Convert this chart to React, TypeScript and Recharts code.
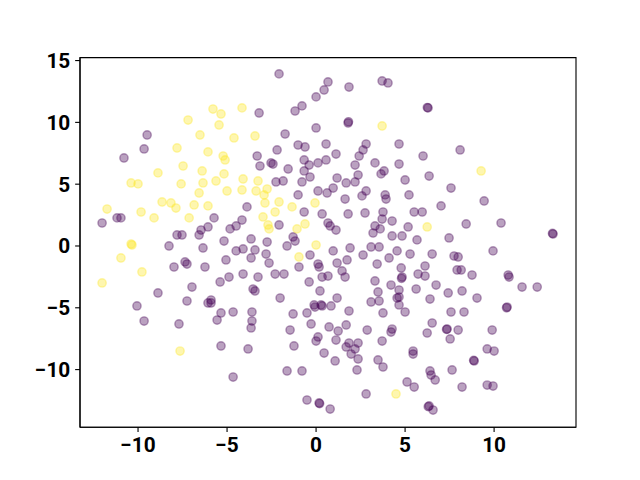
import React from 'react';
import { ScatterChart, Scatter, XAxis, YAxis, ReferenceArea } from 'recharts';

// Class 0 (dark purple) points: [x, y]
const purplePoints: [number, number][] = [
  [-9.49, 8.98], [-9.66, 7.85], [-10.79, 7.12],
  [-2.08, 13.92], [0.67, 13.27], [0.45, 12.62], [0.0, 12.06], [-0.79, 11.33], [-1.18, 10.92],
  [-3.2, 10.76], [0.0, 9.55], [-1.74, 9.06], [-1.01, 8.17], [-0.62, 8.01], [0.56, 8.25],
  [-3.31, 7.28], [-2.19, 7.77], [-3.15, 6.47], [-2.53, 6.72], [-2.42, 6.63], [-1.57, 6.23],
  [-0.67, 6.96], [-0.39, 6.55], [0.11, 6.72], [0.56, 6.96], [-0.67, 6.07], [-0.34, 5.58],
  [-1.85, 5.26], [-2.25, 5.18], [-0.79, 5.18],
  [1.85, 12.86], [3.71, 13.35], [4.04, 13.19], [6.29, 11.17], [6.25, 11.2], [1.8, 9.95], [1.82, 10.05],
  [2.81, 8.25], [2.64, 7.77], [2.42, 7.28], [4.66, 8.25], [6.01, 7.28], [1.12, 7.44], [2.19, 6.55],
  [3.31, 6.72], [4.66, 6.63], [3.82, 6.07], [3.65, 5.83], [6.35, 5.66], [1.18, 5.5], [2.36, 5.74],
  [1.69, 5.1], [2.19, 5.18], [5.0, 5.34], [8.09, 7.77],
  [-12.02, 1.86], [-11.18, 2.27], [-10.96, 2.27], [-7.81, 0.89], [-7.53, 0.89], [-6.46, 1.29],
  [-6.57, 0.89], [-6.07, 1.54], [-8.26, 0.0], [-6.35, -0.16], [-7.36, -1.29], [-7.25, -1.46],
  [-7.98, -1.7], [-6.24, -1.7], [-6.97, -3.32], [-8.88, -3.8], [-7.25, -4.45], [-10.06, -4.85],
  [-1.01, 4.13], [0.11, 4.45], [0.62, 4.29], [-3.88, 3.16], [-0.67, 2.75], [0.34, 2.59],
  [-5.73, 2.27], [-4.16, 2.1], [-4.49, 1.62], [-4.83, 1.38], [-2.08, 1.7], [0.67, 1.86], [0.79, 1.62],
  [-3.65, 0.57], [-2.75, 0.32], [-5.17, 0.4], [-1.29, 0.73], [-1.18, 0.4], [-1.63, 0.0],
  [-3.43, -0.32], [-4.1, -0.24], [-4.49, -0.4], [-2.81, -0.65], [-3.65, -0.97], [-5.06, -1.13],
  [-0.34, -0.73], [-2.64, -1.38], [0.11, -1.46], [0.17, -1.7], [-0.96, -1.7], [0.34, -2.51],
  [0.67, -2.43], [-4.1, -2.27], [-3.26, -2.51], [-2.3, -2.27], [-1.8, -2.27], [-4.89, -2.51],
  [-5.39, -2.91], [-0.39, -2.91], [-3.54, -3.48], [-3.43, -3.64], [0.22, -3.64], [-2.02, -4.21],
  [-5.9, -4.37], [-5.9, -4.61], [-0.11, -4.77], [0.28, -4.77],
  [0.96, 4.69], [2.81, 4.45], [2.58, 4.05], [3.88, 4.13], [3.93, 3.8], [5.22, 4.13], [7.58, 4.69],
  [1.63, 3.8], [2.75, 2.67], [3.76, 2.75], [3.71, 2.18], [1.8, 2.59], [5.51, 2.75], [5.96, 2.75],
  [7.02, 3.24], [4.27, 2.02], [3.31, 1.62], [3.6, 1.38], [3.2, 1.05], [5.17, 1.54], [1.12, 1.29],
  [4.27, 0.81], [4.83, 0.81], [5.67, 0.49], [7.47, 0.65], [1.91, -0.16], [3.09, -0.08], [3.54, -0.08],
  [0.96, -0.4], [2.64, -0.73], [4.55, -0.4], [5.28, -0.65], [4.1, -0.97], [6.52, -0.65], [7.75, -0.81],
  [1.74, -1.13], [1.18, -1.38], [3.43, -1.46], [6.12, -1.62], [1.46, -2.02], [4.78, -1.78],
  [1.63, -2.51], [4.83, -2.51], [4.8, -2.62], [5.73, -2.27], [6.12, -2.43], [3.31, -2.83],
  [4.21, -3.16], [4.66, -3.56], [5.62, -3.48], [6.74, -3.16], [7.42, -3.8], [3.48, -3.72],
  [1.18, -4.21], [3.09, -4.53], [3.54, -4.45], [4.55, -4.21], [4.66, -4.13], [6.4, -4.29], [4.66, -4.77],
  [9.44, 3.64], [8.43, 1.78], [10.39, 1.86], [13.31, 0.97], [13.28, 1.02], [7.98, -0.89], [9.94, -0.4],
  [7.92, -1.94], [8.15, -1.94], [8.76, -2.35], [10.79, -2.35], [10.84, -2.51], [11.57, -3.32],
  [12.42, -3.32], [8.2, -3.64], [9.04, -4.21], [10.73, -4.94], [10.7, -5.0],
  [-9.66, -6.07], [-7.7, -6.31], [-6.07, -4.61], [-5.34, -5.42], [-5.56, -5.99], [-4.66, -5.34],
  [-3.6, -5.34], [-3.6, -6.07], [-3.65, -6.63], [-1.29, -5.5], [-0.51, -5.42], [-0.06, -4.94],
  [0.34, -4.85], [0.84, -4.85], [-0.28, -6.31], [-1.46, -6.8], [0.73, -6.55], [0.11, -7.36],
  [0.0, -7.69], [0.45, -8.66], [-5.34, -8.09], [-3.82, -8.33], [-1.24, -8.09], [-1.63, -10.11],
  [-0.79, -10.11], [-4.66, -10.6], [-0.51, -12.46], [0.17, -12.7], [0.2, -12.75], [0.79, -13.19],
  [1.85, -5.26], [5.0, -5.34], [3.76, -5.42], [7.58, -5.34], [1.24, -6.88], [1.69, -6.39],
  [1.12, -7.61], [2.87, -6.8], [4.27, -6.72], [4.21, -6.96], [6.52, -6.23], [6.24, -7.04],
  [7.36, -6.72], [7.33, -6.75], [7.53, -7.52], [3.71, -7.69], [1.85, -7.85], [1.69, -8.17],
  [2.19, -8.33], [2.36, -7.85], [1.97, -8.74], [2.36, -9.14], [1.07, -9.3], [3.48, -9.22],
  [3.76, -9.79], [2.3, -10.03], [5.45, -8.5], [5.45, -8.74], [5.11, -11.0], [5.51, -11.41],
  [6.4, -10.11], [6.46, -10.44], [6.69, -10.84], [7.64, -10.03], [2.81, -11.97], [6.35, -12.94],
  [6.3, -13.0], [6.57, -13.27],
  [8.31, -5.34], [7.98, -6.8], [9.89, -6.8], [9.61, -8.33], [10.0, -8.5], [8.88, -9.3], [8.85, -9.25],
  [8.2, -11.41], [9.61, -11.25], [9.94, -11.33],
];

// Class 1 (yellow) points: [x, y]
const yellowPoints: [number, number][] = [
  [-7.19, 10.19], [-6.52, 8.98], [-7.81, 7.93], [-6.07, 7.61], [-7.47, 6.47], [-6.4, 6.07],
  [-8.88, 5.91], [-10.39, 5.1], [-10.0, 5.02], [-7.58, 5.02], [-6.35, 5.1],
  [-5.79, 11.08], [-5.34, 10.68], [-4.16, 11.17], [-5.45, 9.79], [-4.61, 8.74], [-3.43, 8.9],
  [-5.22, 7.28], [-5.11, 6.96], [-5.17, 5.83], [-4.1, 5.42], [-3.26, 5.26], [-5.62, 5.26],
  [3.71, 9.71], [9.27, 6.07],
  [-6.57, 4.29], [-11.74, 2.99], [-8.65, 3.56], [-8.15, 3.48], [-7.87, 3.07], [-6.85, 3.32],
  [-9.83, 2.75], [-9.1, 2.27], [-7.13, 2.27], [-10.39, 0.16], [-10.34, 0.08], [-10.96, -0.97],
  [-9.78, -2.1], [-12.02, -2.99],
  [-5.0, 4.45], [-4.16, 4.53], [-3.37, 4.45], [-2.75, 4.61], [-2.92, 4.13], [-2.87, 3.48],
  [-2.08, 3.56], [-1.35, 3.16], [-0.06, 3.48], [-6.07, 3.24], [-2.3, 2.75], [-2.98, 2.35],
  [-2.7, 1.7], [-2.64, 1.38], [-0.62, 1.78], [-1.07, 1.38], [0.0, 0.08], [-0.96, -0.89],
  [6.24, 1.54], [-7.64, -8.5], [4.49, -11.97],
];

const xTicks = [-10, -5, 0, 5, 10];
const yTicks = [-10, -5, 0, 5, 10, 15];

const xDomain: [number, number] = [-13.26, 14.6];
const yDomain: [number, number] = [-14.66, 15.24];

const PURPLE = '#440154';
const YELLOW = '#fde725';

const toData = (pts: [number, number][]) => pts.map(([x, y]) => ({ x, y }));

const makeDot = (color: string) => (props: any) => {
  const { cx, cy } = props;
  if (cx == null || cy == null) return <g />;
  return (
    <circle
      cx={cx}
      cy={cy}
      r={4.17}
      fill={color}
      fillOpacity={0.37}
      stroke={color}
      strokeOpacity={0.37}
      strokeWidth={1.39}
    />
  );
};

const fmt = (v: number) => (v < 0 ? '\u2212' + Math.abs(v) : String(v));

const tickStyle = {
  fill: '#000',
  fontFamily: 'Roboto, "DejaVu Sans", sans-serif',
  fontWeight: 700,
  fontSize: 20.8,
};

export default function App() {
  return (
    <div style={{ position: 'absolute', left: 0, top: 0, background: '#fff' }}>
      <ScatterChart
        width={640}
        height={480}
        margin={{ top: 57.6, right: 64, bottom: 0, left: 0 }}
      >
        <XAxis
          type="number"
          dataKey="x"
          domain={xDomain}
          allowDataOverflow
          ticks={xTicks}
          tickFormatter={fmt}
          height={52.8}
          tickSize={4.86}
          tickMargin={4.86}
          tick={tickStyle}
          axisLine={{ stroke: '#000', strokeWidth: 1.11 }}
          tickLine={{ stroke: '#000', strokeWidth: 1.11 }}
        />
        <YAxis
          type="number"
          dataKey="y"
          domain={yDomain}
          allowDataOverflow
          ticks={yTicks}
          tickFormatter={fmt}
          width={80}
          tickSize={4.86}
          tickMargin={4.86}
          tick={tickStyle}
          axisLine={{ stroke: '#000', strokeWidth: 1.11 }}
          tickLine={{ stroke: '#000', strokeWidth: 1.11 }}
        />
        <Scatter
          data={toData(purplePoints)}
          shape={makeDot(PURPLE)}
          isAnimationActive={false}
        />
        <Scatter
          data={toData(yellowPoints)}
          shape={makeDot(YELLOW)}
          isAnimationActive={false}
        />
        <ReferenceArea
          x1={xDomain[0]}
          x2={xDomain[1]}
          y1={yDomain[0]}
          y2={yDomain[1]}
          fill="none"
          fillOpacity={0}
          stroke="#000"
          strokeWidth={1.11}
          ifOverflow="extendDomain"
        />
      </ScatterChart>
    </div>
  );
}
